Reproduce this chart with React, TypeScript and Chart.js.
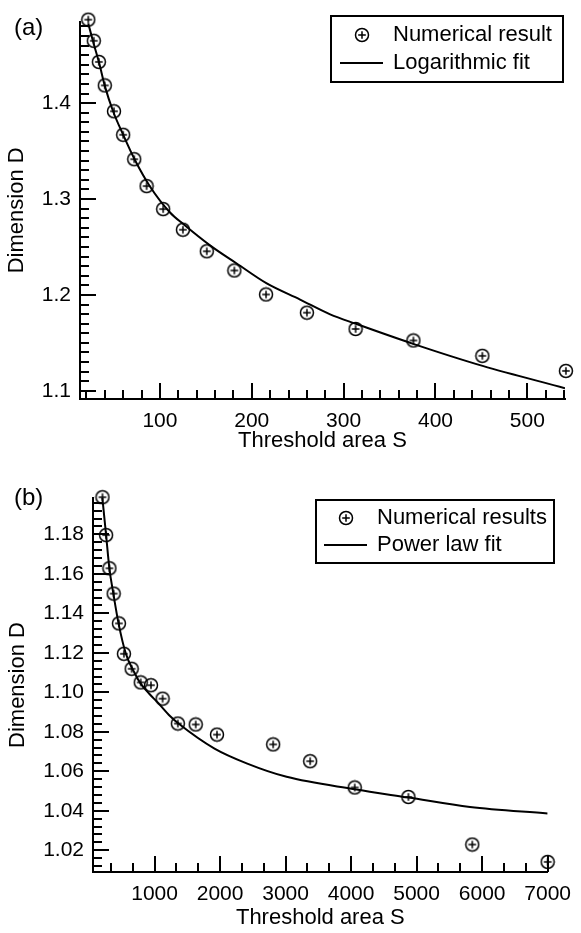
import React, { useEffect, useRef } from 'react';
import { Chart, registerables } from 'chart.js';

Chart.register(...registerables);

const FONT = "'Liberation Sans', Arial, Helvetica, sans-serif";

// ---------- Panel (a) ----------
const A_S = [22, 28, 33.5, 40, 50, 60, 72, 85.5, 103.5, 125, 151, 181, 215.5, 260, 313, 376, 451, 542];
const A_D = [1.487, 1.465, 1.443, 1.4185, 1.3915, 1.367, 1.3415, 1.3135, 1.2895, 1.268, 1.2455, 1.2255, 1.2005, 1.1815, 1.1645, 1.1525, 1.1365, 1.1208];
const A_FIT_S = [22, 27.3, 33.8, 40, 49, 60, 72.8, 89, 111, 125.4, 154.5, 183.6, 216.3, 252.6, 285.3, 313.3, 375.7, 451.3, 541];
const A_FIT_D = [1.483, 1.464, 1.442, 1.418, 1.3915, 1.367, 1.3407, 1.3134, 1.286, 1.2739, 1.2517, 1.2328, 1.212, 1.1952, 1.1798, 1.1699, 1.149, 1.126, 1.1028];
const A_X_TICKS = [100, 200, 300, 400, 500];
const A_X_LABELS = ['100', '200', '300', '400', '500'];
const A_Y_TICKS = [1.1, 1.2, 1.3, 1.4];
const A_Y_LABELS = ['1.1', '1.2', '1.3', '1.4'];

// ---------- Panel (b) ----------
const B_S = [205, 260, 310, 375, 455, 532, 650, 788, 945, 1122, 1355, 1628, 1952, 2810, 3375, 4055, 4875, 5850, 7000];
const B_D = [1.1988, 1.1796, 1.1628, 1.15, 1.1349, 1.1195, 1.1119, 1.105, 1.1036, 1.0968, 1.0842, 1.0837, 1.0786, 1.0736, 1.0651, 1.0518, 1.047, 1.0229, 1.0141];
const B_FIT_S = [203, 260, 310, 370, 450, 560, 685, 785, 915, 1060, 1235, 1365, 1915, 2415, 3015, 4055, 4875, 5815, 7000];
const B_FIT_D = [1.1984, 1.1796, 1.1628, 1.1501, 1.1349, 1.1197, 1.1104, 1.1045, 1.0994, 1.0944, 1.088, 1.0842, 1.0715, 1.0639, 1.0572, 1.0509, 1.0467, 1.0419, 1.0386];
const B_X_TICKS = [1000, 2000, 3000, 4000, 5000, 6000, 7000];
const B_X_LABELS = ['1000', '2000', '3000', '4000', '5000', '6000', '7000'];
const B_Y_TICKS = [1.02, 1.04, 1.06, 1.08, 1.1, 1.12, 1.14, 1.16, 1.18];
const B_Y_LABELS = ['1.02', '1.04', '1.06', '1.08', '1.10', '1.12', '1.14', '1.16', '1.18'];

function range(start: number, end: number, step: number): number[] {
  const out: number[] = [];
  const n = Math.round((end - start) / step);
  for (let i = 0; i <= n; i++) out.push(start + i * step);
  return out;
}

function makeMarker(): HTMLCanvasElement {
  const c = document.createElement('canvas');
  c.width = 16;
  c.height = 16;
  const g = c.getContext('2d')!;
  g.strokeStyle = '#000';
  g.lineWidth = 1.5;
  g.beginPath();
  g.arc(8, 8, 6.5, 0, Math.PI * 2);
  g.stroke();
  g.beginPath();
  g.moveTo(4.2, 8);
  g.lineTo(11.8, 8);
  g.moveTo(8, 4.2);
  g.lineTo(8, 11.8);
  g.stroke();
  return c;
}

interface PanelCfg {
  width: number;
  height: number;
  padding: { top: number; right: number; bottom: number; left: number };
  yAxisWidth: number;
  xAxisHeight: number;
  xMin: number;
  xMax: number;
  yMin: number;
  yMax: number;
  xTicks: number[];
  xLabels: string[];
  yTicks: number[];
  yLabels: string[];
  xMinor: number[];
  yMinor: number[];
  xs: number[];
  ys: number[];
  fitXs: number[];
  fitYs: number[];
  label: string;
  labelPos: [number, number];
  legendBox: [number, number, number, number];
  legendMarker: [number, number];
  legendLine: [number, number, number];
  legendTextX: number;
  legendRows: [number, number];
  legendTexts: [string, string];
  xTitlePadBottom: number;
  yTitlePadTop: number;
}

function Panel({ cfg }: { cfg: PanelCfg }) {
  const ref = useRef<HTMLCanvasElement | null>(null);
  useEffect(() => {
    if (!ref.current) return;
    const marker = makeMarker();
    const decor = {
      id: 'decor',
      beforeDatasetsDraw(chart: any) {
        const { ctx, chartArea } = chart;
        const xs = chart.scales.x;
        const ys = chart.scales.y;
        ctx.save();
        ctx.strokeStyle = '#000';
        ctx.lineWidth = 2;
        ctx.beginPath();
        const major = 16;
        const minor = 9;
        cfg.xMinor.forEach((v) => {
          const p = Math.round(xs.getPixelForValue(v));
          const len = cfg.xTicks.some((t) => Math.abs(t - v) < 1e-6) ? major : minor;
          ctx.moveTo(p, chartArea.bottom);
          ctx.lineTo(p, chartArea.bottom - len);
        });
        cfg.yMinor.forEach((v) => {
          const p = Math.round(ys.getPixelForValue(v));
          const len = cfg.yTicks.some((t) => Math.abs(t - v) < 1e-6) ? major : minor;
          ctx.moveTo(chartArea.left, p);
          ctx.lineTo(chartArea.left + len, p);
        });
        ctx.stroke();
        ctx.restore();
      },
      afterDraw(chart: any) {
        const { ctx } = chart;
        ctx.save();
        ctx.fillStyle = '#000';
        ctx.strokeStyle = '#000';
        ctx.font = `24px ${FONT}`;
        ctx.textBaseline = 'middle';
        ctx.textAlign = 'left';
        ctx.fillText(cfg.label, cfg.labelPos[0], cfg.labelPos[1]);
        // legend
        const [bx, by, bw, bh] = cfg.legendBox;
        ctx.fillStyle = '#fff';
        ctx.fillRect(bx, by, bw, bh);
        ctx.lineWidth = 2;
        ctx.strokeRect(bx, by, bw, bh);
        ctx.drawImage(marker, cfg.legendMarker[0] - 8, cfg.legendMarker[1] - 8);
        ctx.beginPath();
        ctx.moveTo(cfg.legendLine[0], cfg.legendLine[2]);
        ctx.lineTo(cfg.legendLine[1], cfg.legendLine[2]);
        ctx.stroke();
        ctx.fillStyle = '#000';
        ctx.font = `22px ${FONT}`;
        ctx.fillText(cfg.legendTexts[0], cfg.legendTextX, cfg.legendRows[0]);
        ctx.fillText(cfg.legendTexts[1], cfg.legendTextX, cfg.legendRows[1]);
        ctx.restore();
      },
    };

    const chart = new Chart(ref.current, {
      type: 'scatter',
      data: {
        datasets: [
          {
            label: cfg.legendTexts[1],
            data: cfg.fitXs.map((x, i) => ({ x, y: cfg.fitYs[i] })),
            showLine: true,
            borderColor: '#000',
            borderWidth: 2,
            pointRadius: 0,
            cubicInterpolationMode: 'monotone',
            fill: false,
          } as any,
          {
            label: cfg.legendTexts[0],
            data: cfg.xs.map((x, i) => ({ x, y: cfg.ys[i] })),
            showLine: false,
            pointStyle: marker as any,
            pointRadius: 7,
            clip: false,
          } as any,
        ],
      },
      options: {
        responsive: false,
        animation: false,
        layout: { padding: cfg.padding },
        plugins: { legend: { display: false }, tooltip: { enabled: false } },
        scales: {
          x: {
            type: 'linear',
            min: cfg.xMin,
            max: cfg.xMax,
            grid: { display: false, drawTicks: false },
            border: { display: true, color: '#000', width: 2 },
            ticks: {
              padding: 10,
              color: '#000',
              autoSkip: false,
              maxRotation: 0,
              font: { family: FONT, size: 21 },
              callback: (v: any) => {
                const i = cfg.xTicks.findIndex((t) => Math.abs(t - Number(v)) < 1e-6);
                return i >= 0 ? cfg.xLabels[i] : '';
              },
            },
            afterBuildTicks: (s: any) => {
              s.ticks = cfg.xTicks.map((v) => ({ value: v }));
            },
            afterFit: (s: any) => {
              s.height = cfg.xAxisHeight;
            },
            title: {
              display: true,
              text: 'Threshold area S',
              color: '#000',
              font: { family: FONT, size: 22 },
              padding: { top: 0, bottom: cfg.xTitlePadBottom },
            },
          },
          y: {
            type: 'linear',
            min: cfg.yMin,
            max: cfg.yMax,
            grid: { display: false, drawTicks: false },
            border: { display: true, color: '#000', width: 2 },
            ticks: {
              padding: 9,
              color: '#000',
              autoSkip: false,
              font: { family: FONT, size: 21 },
              callback: (v: any) => {
                const i = cfg.yTicks.findIndex((t) => Math.abs(t - Number(v)) < 1e-6);
                return i >= 0 ? cfg.yLabels[i] : '';
              },
            },
            afterBuildTicks: (s: any) => {
              s.ticks = cfg.yTicks.map((v) => ({ value: v }));
            },
            afterFit: (s: any) => {
              s.width = cfg.yAxisWidth;
            },
            title: {
              display: true,
              text: 'Dimension D',
              color: '#000',
              font: { family: FONT, size: 22 },
              padding: { top: cfg.yTitlePadTop, bottom: 0 },
            },
          },
        },
      } as any,
      plugins: [decor],
    });
    return () => chart.destroy();
  }, [cfg]);
  return (
    <canvas
      ref={ref}
      width={cfg.width}
      height={cfg.height}
      style={{ display: 'block', width: cfg.width, height: cfg.height }}
    />
  );
}

const PANEL_A: PanelCfg = {
  width: 581,
  height: 460,
  padding: { top: 17, right: 16, bottom: 0, left: 0 },
  yAxisWidth: 80,
  xAxisHeight: 61,
  xMin: 13,
  xMax: 541,
  yMin: 1.0915,
  yMax: 1.485,
  xTicks: A_X_TICKS,
  xLabels: A_X_LABELS,
  yTicks: A_Y_TICKS,
  yLabels: A_Y_LABELS,
  xMinor: range(20, 540, 20),
  yMinor: range(1.1, 1.48, 0.01),
  xs: A_S,
  ys: A_D,
  fitXs: A_FIT_S,
  fitYs: A_FIT_D,
  label: '(a)',
  labelPos: [14, 28],
  legendBox: [331, 16, 232, 66],
  legendMarker: [362, 35],
  legendLine: [340, 383, 63],
  legendTextX: 393,
  legendRows: [35, 63],
  legendTexts: ['Numerical result', 'Logarithmic fit'],
  xTitlePadBottom: 6,
  yTitlePadTop: 4,
};

const PANEL_B: PanelCfg = {
  width: 581,
  height: 473,
  padding: { top: 38, right: 24, bottom: 0, left: 0 },
  yAxisWidth: 93,
  xAxisHeight: 61,
  xMin: 60,
  xMax: 7000,
  yMin: 1.009,
  yMax: 1.1984,
  xTicks: B_X_TICKS,
  xLabels: B_X_LABELS,
  yTicks: B_Y_TICKS,
  yLabels: B_Y_LABELS,
  xMinor: range(1000 / 3, 7000, 1000 / 3),
  yMinor: range(1.012, 1.196, 0.004),
  xs: B_S,
  ys: B_D,
  fitXs: B_FIT_S,
  fitYs: B_FIT_D,
  label: '(b)',
  labelPos: [14, 38],
  legendBox: [316, 40, 238, 63],
  legendMarker: [346, 58],
  legendLine: [324, 367, 85],
  legendTextX: 377,
  legendRows: [58, 85],
  legendTexts: ['Numerical results', 'Power law fit'],
  xTitlePadBottom: 2,
  yTitlePadTop: 5,
};

export default function App() {
  return (
    <div style={{ position: 'absolute', left: 0, top: 0, width: 581, height: 933, background: '#fff' }}>
      <Panel cfg={PANEL_A} />
      <Panel cfg={PANEL_B} />
    </div>
  );
}
